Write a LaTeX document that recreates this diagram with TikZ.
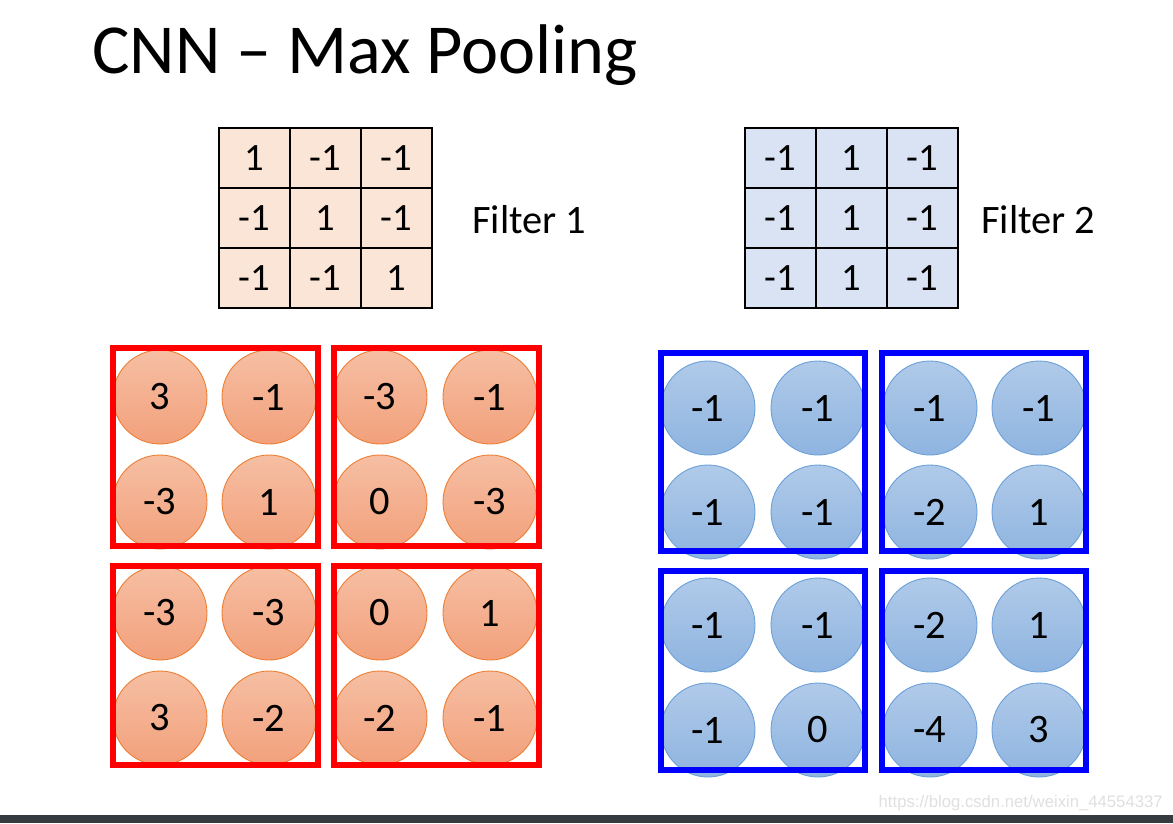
\documentclass[tikz,border=0pt]{standalone}
\usepackage{fontspec}
\setmainfont{Carlito}
\newfontfamily\wmfont{Liberation Sans}
\usetikzlibrary{positioning}

\definecolor{peach}{HTML}{FBE5D6}
\definecolor{paleblue}{HTML}{DAE3F3}
\definecolor{orgtop}{HTML}{F6BFA3}
\definecolor{orgbot}{HTML}{F2A07B}
\definecolor{orgedge}{HTML}{ED7D31}
\definecolor{blutop}{HTML}{B0CAE9}
\definecolor{blubot}{HTML}{8EB4E0}
\definecolor{bluedge}{HTML}{6A9FD8}
\definecolor{stripgray}{HTML}{363B40}

\begin{document}
\begin{tikzpicture}
    	[x=0.02cm, y=-0.02cm,
    	 num/.style={font=\fontsize{22}{26}\selectfont, inner sep=0pt},
    	 redcirc/.style={circle, draw=orgedge, line width=0.5pt, top color=orgtop, bottom color=orgbot,
    	   minimum size=1.88cm, inner sep=0pt, font=\fontsize{23}{27}\selectfont},
    	 bluecirc/.style={circle, draw=bluedge, line width=0.5pt, top color=blutop, bottom color=blubot,
    	   minimum size=1.88cm, inner sep=0pt, font=\fontsize{23}{27}\selectfont},
    	 redbox/.style={draw=red, line width=2.9pt},
    	 bluebox/.style={draw=blue, line width=2.9pt}]
    	\useasboundingbox (0,0) rectangle (1173,823);
    	\fill[white] (0,0) rectangle (1173,823);
    	\fill[stripgray] (0,815) rectangle (1173,823);

    	\node (title) at (92,73) [anchor=base west, inner sep=0pt, font=\fontsize{40}{46}\selectfont] {CNN -- Max Pooling};

    	% filter 1
    	\fill[peach] (219,128) rectangle (432,308);
    	\draw[line width=0.8pt] (219,128) rectangle (432,308);
    	\draw[line width=0.8pt] (290,128) -- (290,308) (361,128) -- (361,308)
    	    (219,188) -- (432,188) (219,248) -- (432,248);
    	\node (fa11) at (254.5,158) [num] {1};
    	\node (fa12) at (325.5,158) [num] {-1};
    	\node (fa13) at (396.5,158) [num] {-1};
    	\node (fa21) at (254.5,218) [num] {-1};
    	\node (fa22) at (325.5,218) [num] {1};
    	\node (fa23) at (396.5,218) [num] {-1};
    	\node (fa31) at (254.5,278) [num] {-1};
    	\node (fa32) at (325.5,278) [num] {-1};
    	\node (fa33) at (396.5,278) [num] {1};
    	\node (fname1) at (472,220) [anchor=west, inner sep=0pt, font=\fontsize{23}{27}\selectfont] {Filter 1};

    	% filter 2
    	\fill[paleblue] (745,128) rectangle (958,308);
    	\draw[line width=0.8pt] (745,128) rectangle (958,308);
    	\draw[line width=0.8pt] (816,128) -- (816,308) (887,128) -- (887,308)
    	    (745,188) -- (958,188) (745,248) -- (958,248);
    	\node (fb11) at (780.5,158) [num] {-1};
    	\node (fb12) at (851.5,158) [num] {1};
    	\node (fb13) at (922.5,158) [num] {-1};
    	\node (fb21) at (780.5,218) [num] {-1};
    	\node (fb22) at (851.5,218) [num] {1};
    	\node (fb23) at (922.5,218) [num] {-1};
    	\node (fb31) at (780.5,278) [num] {-1};
    	\node (fb32) at (851.5,278) [num] {1};
    	\node (fb33) at (922.5,278) [num] {-1};
    	\node (fname2) at (981,220) [anchor=west, inner sep=0pt, font=\fontsize{23}{27}\selectfont] {Filter 2};

    	% feature map 1
    	\node (ra1) at (160,397) [redcirc] {3};
    	\node (ra2) at (269,397) [redcirc] {-1};
    	\node (ra3) at (160,502) [redcirc] {-3};
    	\node (ra4) at (269,502) [redcirc] {1};
    	\node (rb1) at (380,397) [redcirc] {-3};
    	\node (rb2) at (490,397) [redcirc] {-1};
    	\node (rb3) at (380,502) [redcirc] {0};
    	\node (rb4) at (490,502) [redcirc] {-3};
    	\node (rc1) at (160,613) [redcirc] {-3};
    	\node (rc2) at (269,613) [redcirc] {-3};
    	\node (rc3) at (160,718) [redcirc] {3};
    	\node (rc4) at (269,718) [redcirc] {-2};
    	\node (rd1) at (380,613) [redcirc] {0};
    	\node (rd2) at (490,613) [redcirc] {1};
    	\node (rd3) at (380,718) [redcirc] {-2};
    	\node (rd4) at (490,718) [redcirc] {-1};

    	\draw[redbox] (113,348) rectangle (318,546);
    	\draw[redbox] (334,348) rectangle (539,546);
    	\draw[redbox] (113,566) rectangle (318,765);
    	\draw[redbox] (334,566) rectangle (539,765);

    	% feature map 2
    	\node (ba1) at (708,408) [bluecirc] {-1};
    	\node (ba2) at (818,408) [bluecirc] {-1};
    	\node (ba3) at (708,512) [bluecirc] {-1};
    	\node (ba4) at (818,512) [bluecirc] {-1};
    	\node (bb1) at (930,408) [bluecirc] {-1};
    	\node (bb2) at (1039,408) [bluecirc] {-1};
    	\node (bb3) at (930,512) [bluecirc] {-2};
    	\node (bb4) at (1039,512) [bluecirc] {1};
    	\node (bc1) at (708,625) [bluecirc] {-1};
    	\node (bc2) at (818,625) [bluecirc] {-1};
    	\node (bc3) at (708,730) [bluecirc] {-1};
    	\node (bc4) at (818,730) [bluecirc] {0};
    	\node (bd1) at (930,625) [bluecirc] {-2};
    	\node (bd2) at (1039,625) [bluecirc] {1};
    	\node (bd3) at (930,730) [bluecirc] {-4};
    	\node (bd4) at (1039,730) [bluecirc] {3};

    	\draw[bluebox] (661,353) rectangle (865,551);
    	\draw[bluebox] (882,353) rectangle (1086,551);
    	\draw[bluebox] (661,571) rectangle (865,770);
    	\draw[bluebox] (882,571) rectangle (1086,770);

    	\node (mark) at (1163,803) [anchor=east, inner sep=0pt, text=black!12, font=\wmfont\fontsize{9.5}{11}\selectfont] {https://blog.csdn.net/weixin\_44554337};
\end{tikzpicture}
\end{document}
